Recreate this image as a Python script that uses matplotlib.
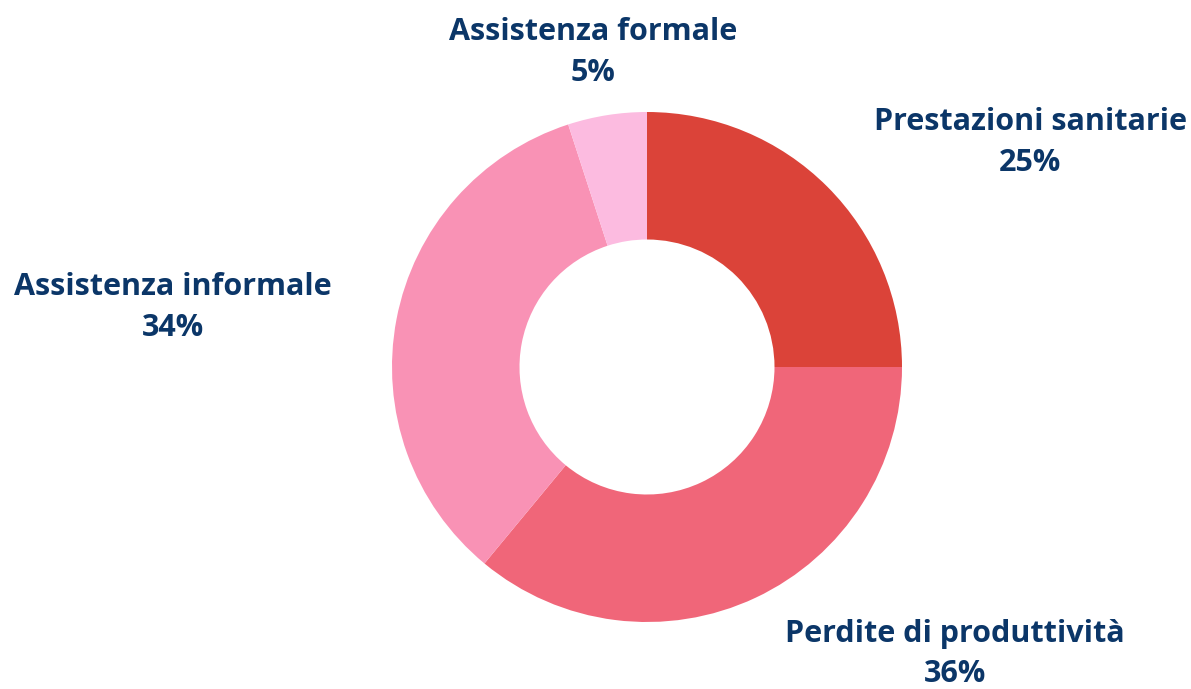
import matplotlib.pyplot as plt

labels = ['Prestazioni sanitarie', 'Perdite di produttività', 'Assistenza informale', 'Assistenza formale']
values = [25, 36, 34, 5]
colors = ['#DB4339', '#F06679', '#F992B5', '#FCBBE0']

# label centres in data units (radius 1 = outer edge of the ring)
label_pos = [(1.502, 0.880), (1.208, -1.125), (-1.859, 0.233), (-0.212, 1.233)]

plt.rcParams['font.family'] = ['Open Sans', 'DejaVu Sans']

fig = plt.figure(figsize=(11.91, 6.89), dpi=100)
ax = fig.add_axes([0, 0, 1, 1])
ax.pie(values, colors=colors, startangle=90, counterclock=False,
       radius=1, wedgeprops=dict(width=0.5, linewidth=0))

for lab, v, (x, y) in zip(labels, values, label_pos):
    ax.text(x, y, f'{lab}\n{v}%', ha='center', va='center', fontsize=22,
            fontweight='bold', color='#0B3668', linespacing=1.45)

ax.set_xlim(-647 / 255, (1191 - 647) / 255)
ax.set_ylim(-(689 - 367) / 255, 367 / 255)
ax.set_aspect('equal')
ax.axis('off')

fig.savefig('out.png', dpi=100)
